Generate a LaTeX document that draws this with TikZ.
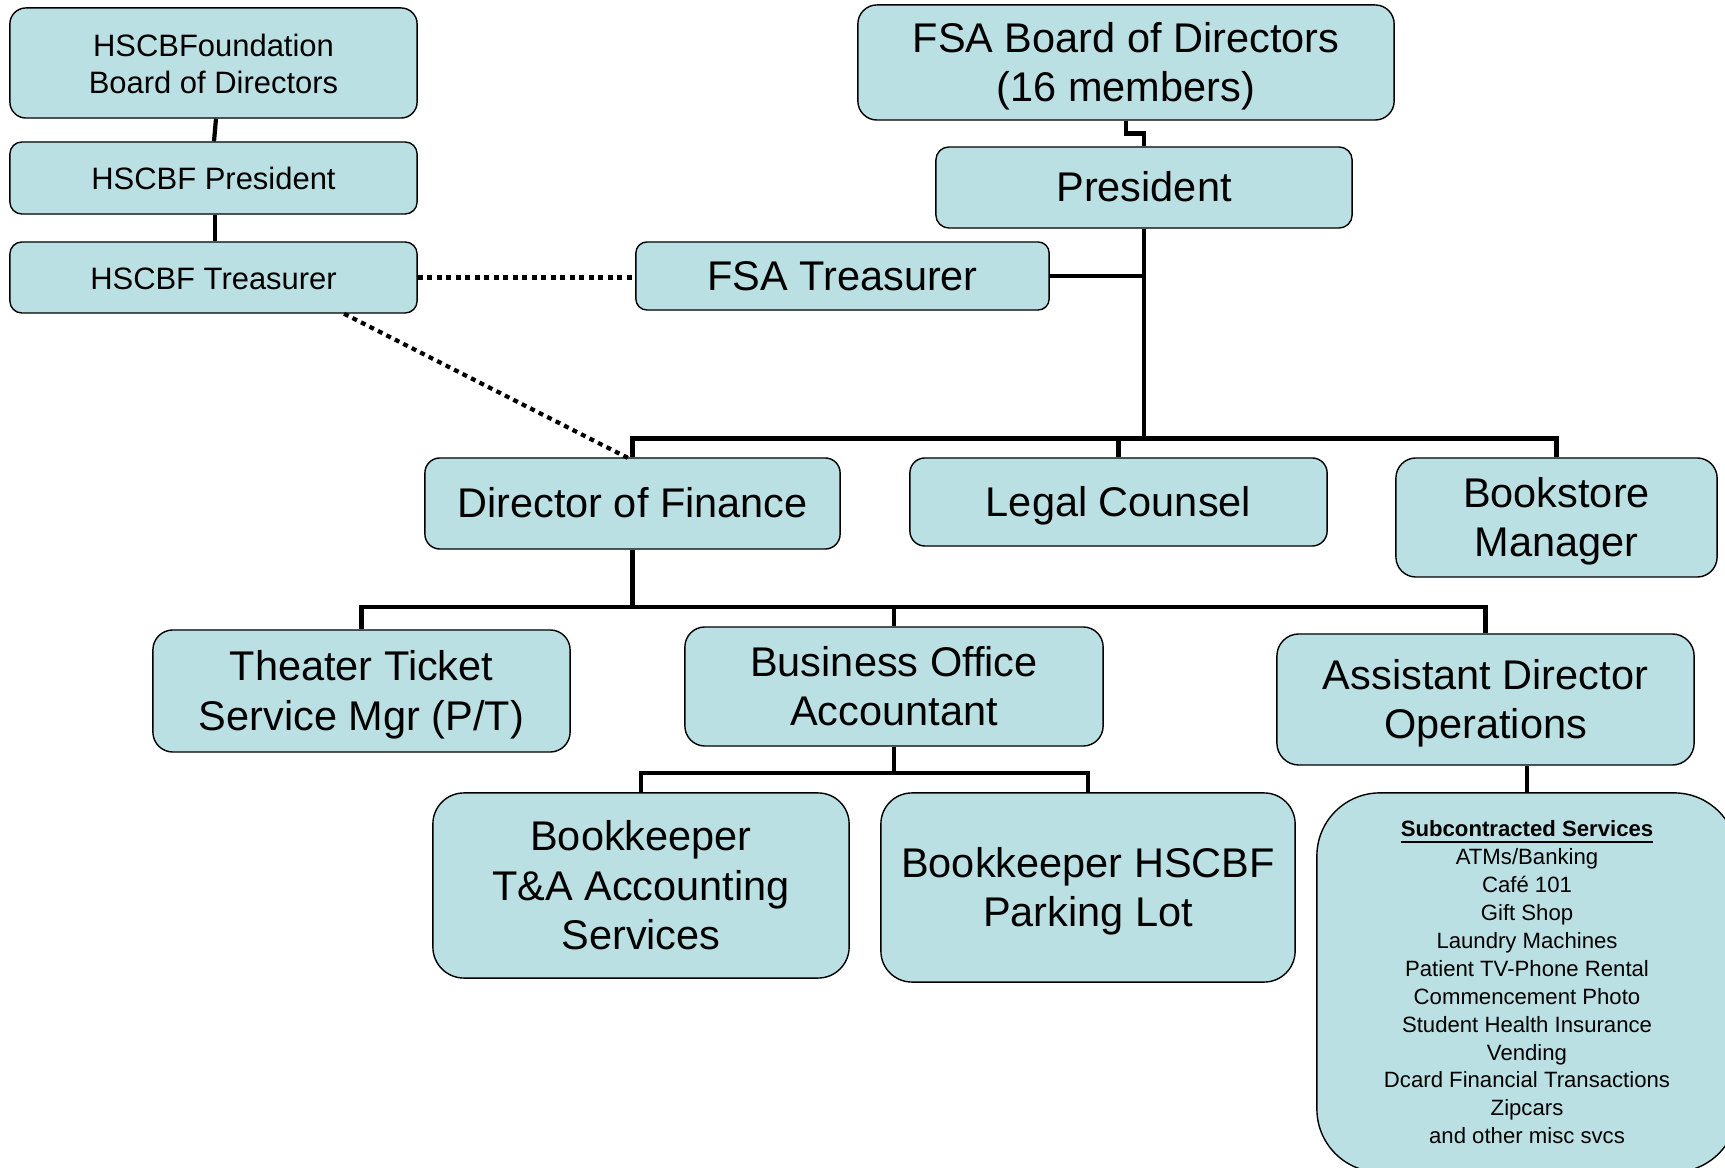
\documentclass[tikz,border=0pt]{standalone}
\usepackage{fontspec}
\setmainfont{Liberation Sans}
\usetikzlibrary{calc}
\definecolor{boxfill}{RGB}{187,224,227}
\newcommand\bigtext{\fontsize{11.8}{14.2}\selectfont}
\newcommand\smalltext{\fontsize{8.8}{10.6}\selectfont}
\newcommand\tinytext{\fontsize{6.3}{7.94}\selectfont}
% invisible rules that fix the line box of each text block
\newcommand\linetop[1]{\rule{0pt}{#1}}
\newcommand\linebot[1]{\rule[-#1]{0pt}{#1}}
% first-line struts for multi-line labels
\newcommand\bigfirst{\linetop{11.2pt}}
\newcommand\smallfirst{\linetop{8.9pt}}
\newcommand\tinyfirst{\linetop{6pt}}
\tikzset{
  boxbase/.style={draw=black, line width=0.4pt, fill=boxfill, align=center,
    inner sep=0pt},
  textstruts/.style 2 args={execute at begin node={\linetop{#1}},
    execute at end node={\linebot{#2}}},
  orgbox/.style={boxbase, font=\bigtext, textstruts={11.2pt}{2.95pt}},
  smallbox/.style={boxbase, font=\smalltext, textstruts={8.9pt}{2.2pt}},
  listbox/.style={boxbase, font=\tinytext, textstruts={6pt}{1.6pt}},
  conn/.style={line width=1.2pt, line join=miter},
  dotlink/.style={line width=1.2pt, dash pattern=on 1.4pt off 1.3pt}
}
\begin{document}
\begin{tikzpicture}[x=0.01cm, y=-0.01cm]
\fill[white] (0,0) rectangle (1725,1168);
\useasboundingbox (0,0) rectangle (1725,1168);

% HSCB Foundation column
\node[smallbox, minimum width=4.07cm, minimum height=1.10cm, rounded corners=0.16cm]
  (hfound) at (213.5,63) {\smallfirst HSCBFoundation\\Board of Directors};
\node[smallbox, minimum width=4.07cm, minimum height=0.72cm, rounded corners=0.12cm]
  (hpres) at (213.5,178) {HSCBF President};
\node[smallbox, minimum width=4.07cm, minimum height=0.71cm, rounded corners=0.12cm]
  (htreas) at (213.5,277.5) {HSCBF Treasurer};

% FSA top levels
\node[orgbox, minimum width=5.36cm, minimum height=1.15cm, rounded corners=0.19cm]
  (board) at (1126,62.5) {\bigfirst FSA Board of Directors\\(16 members)};
\node[orgbox, minimum width=4.16cm, minimum height=0.81cm, rounded corners=0.13cm]
  (pres) at (1144,187.5) {President};
\node[orgbox, minimum width=4.13cm, minimum height=0.68cm, rounded corners=0.11cm]
  (ftreas) at (842.5,276) {FSA Treasurer};

% Reports to the President
\node[orgbox, minimum width=4.15cm, minimum height=0.91cm, rounded corners=0.15cm]
  (dof) at (632.5,503.5) {Director of Finance};
\node[orgbox, minimum width=4.17cm, minimum height=0.88cm, rounded corners=0.15cm]
  (legal) at (1118.5,502) {Legal Counsel};
\node[orgbox, minimum width=3.21cm, minimum height=1.19cm, rounded corners=0.2cm]
  (books) at (1556.5,517.5) {\bigfirst Bookstore\\Manager};

% Reports to the Director of Finance
\node[orgbox, minimum width=4.17cm, minimum height=1.22cm, rounded corners=0.2cm]
  (theater) at (361.5,691) {\bigfirst Theater Ticket\\Service Mgr (P/T)};
\node[orgbox, minimum width=4.18cm, minimum height=1.19cm, rounded corners=0.2cm]
  (busoff) at (894,686.5) {\bigfirst Business Office\\Accountant};
\node[orgbox, minimum width=4.17cm, minimum height=1.31cm, rounded corners=0.22cm]
  (asst) at (1485.5,699.5) {\bigfirst Assistant Director\\Operations};

% Bottom level
\node[orgbox, minimum width=4.16cm, minimum height=1.85cm, rounded corners=0.31cm]
  (bkta) at (641,885.5) {\bigfirst Bookkeeper\\T\&A Accounting\\Services};
\node[orgbox, minimum width=4.14cm, minimum height=1.89cm, rounded corners=0.31cm]
  (bkhs) at (1088,887.5) {\bigfirst Bookkeeper HSCBF\\Parking Lot};
\node[listbox, minimum width=4.2cm, minimum height=3.79cm, rounded corners=0.63cm]
  (subc) at (1527,982.5) {\tinyfirst\underline{\textbf{Subcontracted Services}}\\ATMs/Banking\\Café 101\\Gift Shop\\Laundry Machines\\Patient TV-Phone Rental\\Commencement Photo\\Student Health Insurance\\Vending\\Dcard Financial Transactions\\Zipcars\\and other misc svcs};

% Bus lines
\coordinate (bus1) at (1144,438.5);
\coordinate (bus2) at (632.5,607);
\coordinate (bus3) at (894,773);

% Foundation chain
\draw[conn] ([xshift=0.025cm]hfound.south) -- ([xshift=0.005cm]hpres.north);
\draw[conn] ([xshift=0.015cm]hpres.south) -- ([xshift=0.015cm]htreas.north);

% Board to President with its jog
\draw[conn] (board.south) |- ($(board.south)!.5!(pres.north)$) -| (pres.north);

% President down to the first bus
\draw[conn] (pres.south) -- (bus1);
\draw[conn] (ftreas.east) -- (ftreas.east -| pres.south);
\draw[conn] (dof.north) -- (dof.north |- bus1) -- (books.north |- bus1) -- (books.north);
\draw[conn] (legal.north |- bus1) -- (legal.north);

% Director of Finance down to the second bus
\draw[conn] (dof.south) -- (bus2);
\draw[conn] (theater.north) -- (theater.north |- bus2) -- (asst.north |- bus2) -- (asst.north);
\draw[conn] (busoff.north |- bus2) -- (busoff.north);

% Business Office down to the bookkeepers
\draw[conn] (busoff.south) -- (bus3);
\draw[conn] (bkta.north) -- (bkta.north |- bus3) -- (bkhs.north |- bus3) -- (bkhs.north);

% Operations to subcontracted services
\draw[conn] (subc.north) -- (subc.north |- asst.south);

% Dotted liaison lines
\draw[dotlink] (htreas.east) -- (htreas.east -| ftreas.west);
\draw[dotlink] ([xshift=1.305cm]htreas.south) -- ([xshift=-0.02cm, yshift=-0.02cm]dof.north);
\end{tikzpicture}
\end{document}
